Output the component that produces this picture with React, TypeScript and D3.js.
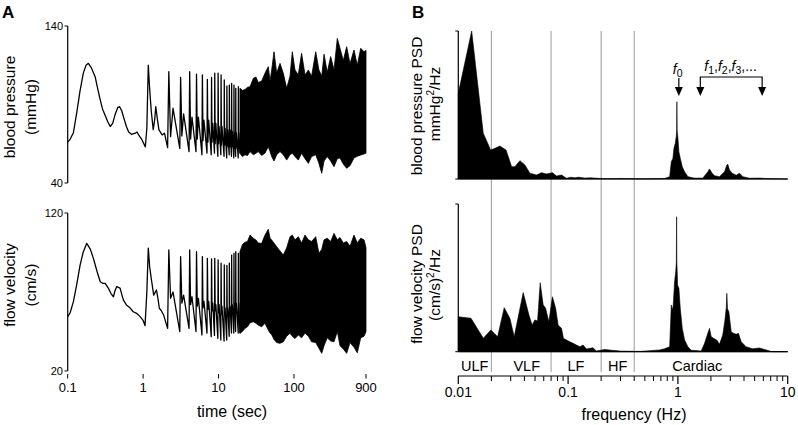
import React from 'react';
import * as d3 from 'd3';

// ---------- panel A : time series ----------
// heart beats (s) shared by both traces, read from the spikes
const beatT = [2.19, 3.14, 4.14, 5.1, 6.1, 7.1, 8.07, 8.9, 9.86, 10.8, 11.9, 12.9, 13.9, 14.9, 16.0, 16.9, 18.3];

// blood pressure (mmHg), first two seconds point by point
const bpEarlyT = [0.1, 0.108, 0.119, 0.132, 0.145, 0.161, 0.175, 0.188, 0.205, 0.231, 0.25, 0.27, 0.29, 0.314, 0.34, 0.366, 0.395, 0.427, 0.46, 0.488, 0.52, 0.55, 0.6, 0.643, 0.7, 0.788, 0.83, 0.872, 0.967, 1.07, 1.12, 1.17, 1.22, 1.28, 1.36, 1.42, 1.47, 1.55, 1.62, 1.79, 1.92];
const bpEarlyV = [66, 68, 72, 85, 98, 110, 115, 116.2, 113.5, 107.7, 100, 93, 87, 83, 79, 76, 78, 84, 88, 88.6, 86, 82, 76, 72.5, 71, 71.7, 72.5, 70.6, 67.4, 63, 75, 115, 100, 86, 74, 80, 88.6, 80, 73.8, 70.6, 71.7];
const bpPeak = [110.9, 107.3, 110.9, 109.4, 108.8, 106, 107.3, 109.9, 109.9, 108.8, 105.6, 101.8, 102.4, 103.5, 102.4, 100.3, 101.3];
const bpTrough = [62.5, 62, 60, 60, 58, 59, 58, 59, 57, 58, 57, 56, 58, 57, 56, 57, 56];
const bpDip = [69.5, 70, 68, 68, 67, 66, 66, 65, 65, 64, 64, 63, 63, 63, 62, 62, 62];
const bpNotch = [87.6, 84, 82, 82, 80, 80, 78, 78, 76, 76, 75, 74, 74, 73, 72, 72, 72];

// flow velocity (cm/s)
const fvEarlyT = [0.1, 0.108, 0.119, 0.132, 0.146, 0.16, 0.179, 0.2, 0.219, 0.245, 0.27, 0.29, 0.314, 0.347, 0.375, 0.404, 0.425, 0.447, 0.494, 0.546, 0.6, 0.67, 0.74, 0.82, 0.91, 1.0, 1.06, 1.12, 1.17, 1.22, 1.28, 1.38, 1.5, 1.57, 1.64, 1.75, 1.87];
const fvEarlyV = [54.4, 57, 63.9, 75, 87, 95, 100.8, 97, 91.3, 83, 76.5, 75.5, 75.5, 72.3, 69, 67, 71, 73.4, 72.5, 65, 61.8, 60, 57.5, 56.5, 54.4, 52, 48.7, 70, 97.7, 86, 78.7, 68, 71.3, 66, 59.7, 58, 55.4];
const fvPeak = [96.6, 92.4, 96.6, 95.5, 92.4, 91.3, 90.9, 91.3, 90.3, 88.2, 87.1, 86.8, 88.2, 93.4, 94.5, 95.5, 94.5];
const fvTrough = [47, 44.9, 47, 45, 42.8, 44, 41.7, 42.5, 40.7, 39.6, 39, 39.6, 42, 44, 44, 45, 44];
const fvDip = [66, 63, 62, 61, 60, 59, 58, 58, 57, 56, 56, 56, 57, 58, 58, 59, 59];
const fvNotch = [70, 68, 67, 66, 64, 64, 63, 62, 62, 61, 60, 60, 61, 62, 63, 63, 63];

// dense part (beats merge): upper / lower envelopes
const envT = [19.2, 20.7, 22.4, 24.2, 26.1, 28.9, 31.3, 33.6, 37.3, 41.2, 45.6, 48.1, 50.6, 54.3, 58.9, 65.2, 72.1, 80, 88.5, 94.9, 103, 114, 126, 140, 155, 171, 194, 214, 233, 250, 276, 306, 339, 375, 407, 450, 499, 552, 624, 690, 766, 847, 900];
const bpUpper = [100.3, 99, 99.5, 101, 101.3, 106.7, 107.5, 104, 105, 109.9, 114.1, 105, 112, 123.6, 110, 116.2, 109.9, 100.3, 108, 123.6, 112, 109, 122.6, 108.8, 112, 108, 123.6, 112, 108, 122, 110.5, 120.5, 112, 132.1, 125.8, 118, 126.8, 116, 124.7, 115, 125.8, 123.6, 124.5];
const bpLower = [58.9, 56.8, 58, 57.5, 60, 58, 58.9, 60, 57.5, 59, 63.1, 60, 56.8, 54, 58, 60, 58, 54.6, 58, 59, 56.8, 54.6, 59, 55.5, 52.5, 56.8, 58, 52.5, 46.2, 54, 56.8, 54, 50.4, 55.5, 56, 52, 49.4, 51, 56, 57, 57.8, 58.5, 59];
const fvUpper = [95.5, 100, 101.5, 102, 106, 104, 102.9, 101, 100.8, 106, 109.7, 104, 102.9, 101, 98.7, 96, 93.4, 98, 105, 106, 103, 105, 101, 106, 103, 102, 105, 94.5, 97, 103, 104, 102, 107.1, 103, 104.5, 101, 102, 99, 106, 101, 104, 103, 98];
const fvLower = [43.9, 45, 47, 48, 50.5, 51.2, 50.2, 49, 48, 50.2, 46, 44, 43, 40, 38, 37.5, 38.5, 42, 43.9, 42, 40.5, 42.8, 41, 44, 42, 38.5, 38, 34.4, 31.2, 36, 41, 39, 38.5, 45, 36, 34, 31.2, 38, 35, 31.5, 41, 42, 44.9];

const timeTicks = [0.1, 1, 10, 100, 900];
const timeTickLabels = ['0.1', '1', '10', '100', '900'];

// ---------- panel B : spectra (relative PSD) ----------
const bpPsdF = [0.01, 0.01324, 0.01688, 0.0197, 0.02156, 0.0239, 0.0272, 0.0306, 0.0328, 0.0364, 0.0404, 0.0449, 0.0516, 0.0573, 0.0636, 0.0721, 0.0785, 0.0871, 0.0967, 0.105, 0.115, 0.125, 0.142, 0.16, 0.194, 0.25, 0.3, 0.4, 0.55, 0.757, 0.841, 0.871, 0.901, 0.92, 0.947, 0.967, 0.975, 0.979, 0.984, 1.0, 1.021, 1.051, 1.096, 1.15, 1.233, 1.4, 1.688, 1.874, 1.94, 2.05, 2.16, 2.39, 2.66, 2.79, 2.85, 2.95, 3.12, 3.4, 3.64, 3.9, 4.49, 5.53, 6.14, 7.26, 10];
const bpPsdV = [0.579, 1.0, 0.309, 0.196, 0.207, 0.223, 0.196, 0.083, 0.083, 0.124, 0.095, 0.039, 0.027, 0.043, 0.034, 0.043, 0.02, 0.027, 0.005, 0.012, 0.008, 0.012, 0.006, 0.008, 0.004, 0.002, 0.004, 0.002, 0.002, 0.004, 0.016, 0.117, 0.14, 0.207, 0.241, 0.29, 0.34, 0.522, 0.33, 0.28, 0.184, 0.14, 0.083, 0.049, 0.016, 0.006, 0.006, 0.049, 0.068, 0.039, 0.022, 0.016, 0.049, 0.095, 0.099, 0.061, 0.039, 0.025, 0.039, 0.016, 0.005, 0.006, 0.004, 0.002, 0];
const fvPsdF = [0.01, 0.01305, 0.0169, 0.0198, 0.0228, 0.0262, 0.0295, 0.0323, 0.039, 0.044, 0.047, 0.0498, 0.0527, 0.0557, 0.0593, 0.0622, 0.0668, 0.072, 0.077, 0.0811, 0.0871, 0.0907, 0.0967, 0.1035, 0.111, 0.119, 0.128, 0.137, 0.147, 0.168, 0.181, 0.216, 0.248, 0.3, 0.45, 0.682, 0.757, 0.841, 0.871, 0.901, 0.933, 0.955, 0.968, 0.973, 0.978, 0.994, 1.021, 1.051, 1.096, 1.15, 1.233, 1.32, 1.63, 1.75, 1.85, 1.94, 2.01, 2.11, 2.26, 2.39, 2.56, 2.67, 2.76, 2.79, 2.83, 2.91, 3.06, 3.21, 3.4, 3.56, 3.77, 4.17, 4.79, 5.53, 6.5, 7.2, 10];
const fvPsdV = [0.237, 0.226, 0.091, 0.147, 0.102, 0.298, 0.226, 0.102, 0.4, 0.248, 0.181, 0.215, 0.208, 0.467, 0.316, 0.298, 0.203, 0.372, 0.294, 0.181, 0.158, 0.091, 0.079, 0.068, 0.057, 0.045, 0.034, 0.045, 0.018, 0.027, 0.005, 0.015, 0.01, 0.004, 0.002, 0.012, 0.02, 0.034, 0.316, 0.282, 0.474, 0.542, 0.6, 0.914, 0.62, 0.45, 0.429, 0.294, 0.158, 0.079, 0.034, 0.01, 0.005, 0.057, 0.113, 0.158, 0.102, 0.091, 0.079, 0.05, 0.113, 0.203, 0.3, 0.395, 0.29, 0.271, 0.135, 0.125, 0.118, 0.125, 0.068, 0.034, 0.02, 0.025, 0.01, 0, 0];

const bandEdges = [0.02, 0.07, 0.2, 0.4];
const bandNames = ['ULF', 'VLF', 'LF', 'HF', 'Cardiac'];
const bandLabelF = [0.0141, 0.042, 0.118, 0.283, 1.5];
const freqTicks = [0.01, 0.1, 1, 10];
const freqTickLabels = ['0.01', '0.1', '1', '10'];
const f0Freq = 1.02;
const harmonicSpan = [1.6, 5.85];

const FONT = '"Liberation Sans", Arial, Helvetica, sans-serif';

type Pt = [number, number];

function tracePoints(earlyT: number[], earlyV: number[], peak: number[], trough: number[], dip: number[], notch: number[], lower: number[]): Pt[] {
  const pts: Pt[] = earlyT.map((t, i) => [t, earlyV[i]]);
  beatT.forEach((t, i) => {
    pts.push([t - 0.08, trough[i]], [t, peak[i]], [t + 0.12, dip[i]], [t + 0.3, notch[i]]);
  });
  pts.push([envT[0], lower[0]]);
  return pts;
}

export default function App() {
  const xT = d3.scaleLog().domain([0.1, 900]).range([67.7, 366]);
  const yBP = d3.scaleLinear().domain([40, 140]).range([183, 26]);
  const yFV = d3.scaleLinear().domain([20, 120]).range([371, 213]);
  const xF = d3.scaleLog().domain([0.01, 10]).range([458.3, 787.7]);
  const yP1 = d3.scaleLinear().domain([0, 1]).range([179, 31]);
  const yP2 = d3.scaleLinear().domain([0, 1]).range([351.7, 204]);

  const traceLine = (y: d3.ScaleLinear<number, number>) =>
    d3.line<Pt>().x(d => xT(d[0])).y(d => y(d[1]));
  const envArea = (y: d3.ScaleLinear<number, number>, lower: number[]) =>
    d3.area<number>().x((_, i) => xT(envT[i])).y0((_, i) => y(lower[i])).y1(d => y(d));
  const psdArea = (y: d3.ScaleLinear<number, number>, f: number[]) =>
    d3.area<number>().x((_, i) => xF(f[i])).y0(y(0)).y1(d => y(d));

  const bpPts = tracePoints(bpEarlyT, bpEarlyV, bpPeak, bpTrough, bpDip, bpNotch, bpLower);
  const fvPts = tracePoints(fvEarlyT, fvEarlyV, fvPeak, fvTrough, fvDip, fvNotch, fvLower);

  const minorTicks = xF.ticks().filter(t => !freqTicks.some(m => Math.abs(m - t) < 1e-9));

  const arrowHead = (x: number, tipY: number) => `M${x - 4},${tipY - 9}L${x + 4},${tipY - 9}L${x},${tipY}Z`;
  const xf0 = xF(f0Freq);
  const xh1 = xF(harmonicSpan[0]);
  const xh2 = xF(harmonicSpan[1]);

  const yAxisA = (y: d3.ScaleLinear<number, number>, ticks: number[]) => {
    const [a, b] = y.domain();
    return (
      <g>
        <line x1={67.7} x2={67.7} y1={y(a)} y2={y(b)} stroke="#000" strokeWidth={1.2} />
        {ticks.map(t => (
          <g key={t}>
            <line x1={64.5} x2={67.7} y1={y(t)} y2={y(t)} stroke="#000" strokeWidth={1} />
            <text x={63} y={y(t)} dy="0.35em" textAnchor="end" fontSize={11}>{t}</text>
          </g>
        ))}
      </g>
    );
  };

  const yAxisB = (y: d3.ScaleLinear<number, number>) => (
    <g>
      <line x1={458.3} x2={458.3} y1={y(0)} y2={y(1)} stroke="#000" strokeWidth={1.2} />
      <line x1={455.3} x2={458.3} y1={y(0)} y2={y(0)} stroke="#000" />
      <line x1={455.3} x2={458.3} y1={y(1)} y2={y(1)} stroke="#000" />
      <line x1={458.3} x2={787.7} y1={y(0)} y2={y(0)} stroke="#000" strokeWidth={1.2} />
    </g>
  );

  return (
    <svg width={798} height={425} style={{ position: 'absolute', left: 0, top: 0, background: '#fff' }} fontFamily={FONT}>
      {/* ----- panel A ----- */}
      <text x={2} y={18} fontSize={17} fontWeight="bold">A</text>
      {yAxisA(yBP, [40, 140])}
      {yAxisA(yFV, [20, 120])}
      <path d={traceLine(yBP)(bpPts) || ''} fill="none" stroke="#000" strokeWidth={1.3} strokeLinejoin="round" />
      <path d={envArea(yBP, bpLower)(bpUpper) || ''} fill="#000" stroke="#000" strokeWidth={0.8} />
      <path d={traceLine(yFV)(fvPts) || ''} fill="none" stroke="#000" strokeWidth={1.3} strokeLinejoin="round" />
      <path d={envArea(yFV, fvLower)(fvUpper) || ''} fill="#000" stroke="#000" strokeWidth={0.8} />

      <text transform="translate(15,107) rotate(-90)" textAnchor="middle" fontSize={15.5}>blood pressure</text>
      <text transform="translate(36,107) rotate(-90)" textAnchor="middle" fontSize={15.5}>(mmHg)</text>
      <text transform="translate(15,285) rotate(-90)" textAnchor="middle" fontSize={15.5}>flow velocity</text>
      <text transform="translate(36,285) rotate(-90)" textAnchor="middle" fontSize={15.5}>(cm/s)</text>

      {timeTicks.map((t, i) => (
        <g key={t}>
          <line x1={xT(t)} x2={xT(t)} y1={374} y2={378.5} stroke="#000" strokeWidth={1} />
          <text x={xT(t)} y={392} textAnchor="middle" fontSize={13}>{timeTickLabels[i]}</text>
        </g>
      ))}
      <text x={232} y={417} textAnchor="middle" fontSize={16}>time (sec)</text>

      {/* ----- panel B ----- */}
      <text x={412} y={18} fontSize={17} fontWeight="bold">B</text>
      {bandEdges.map(f => (
        <line key={f} x1={xF(f)} x2={xF(f)} y1={31} y2={372} stroke="#999" strokeWidth={1} />
      ))}
      <path d={psdArea(yP1, bpPsdF)(bpPsdV) || ''} fill="#000" stroke="#000" strokeWidth={0.6} />
      <path d={psdArea(yP2, fvPsdF)(fvPsdV) || ''} fill="#000" stroke="#000" strokeWidth={0.6} />
      {yAxisB(yP1)}
      {yAxisB(yP2)}

      <text transform="translate(422,106) rotate(-90)" textAnchor="middle" fontSize={15.5}>blood pressure PSD</text>
      <text transform="translate(440,104) rotate(-90)" textAnchor="middle" fontSize={15.5}>
        mmHg<tspan dy={-6} fontSize={10}>2</tspan><tspan dy={6}>/Hz</tspan>
      </text>
      <text transform="translate(422,284) rotate(-90)" textAnchor="middle" fontSize={15.5}>flow velocity PSD</text>
      <text transform="translate(440,285) rotate(-90)" textAnchor="middle" fontSize={15.5}>
        (cm/s)<tspan dy={-6} fontSize={10}>2</tspan><tspan dy={6}>/Hz</tspan>
      </text>

      {/* f0 and harmonics */}
      <text x={xf0 - 6} y={74} fontSize={14}>
        <tspan fontStyle="italic">f</tspan><tspan dy={3} fontSize={10.5}>0</tspan>
      </text>
      <line x1={xf0} x2={xf0} y1={78} y2={88} stroke="#000" strokeWidth={1.2} />
      <path d={arrowHead(xf0, 96)} fill="#000" />
      <path d={`M${xh1},88V77H${xh2}V88`} fill="none" stroke="#000" strokeWidth={1.2} />
      <path d={arrowHead(xh1, 96)} fill="#000" />
      <path d={arrowHead(xh2, 96)} fill="#000" />
      <text x={xh1 + 4} y={71} fontSize={14}>
        <tspan fontStyle="italic">f</tspan><tspan dy={3} fontSize={10.5}>1</tspan>
        <tspan dy={-3}>,</tspan><tspan fontStyle="italic">f</tspan><tspan dy={3} fontSize={10.5}>2</tspan>
        <tspan dy={-3}>,</tspan><tspan fontStyle="italic">f</tspan><tspan dy={3} fontSize={10.5}>3</tspan>
        <tspan dy={-3}>,...</tspan>
      </text>

      {bandNames.map((n, i) => (
        <text key={n} x={xF(bandLabelF[i])} y={371} textAnchor="middle" fontSize={14.5}>{n}</text>
      ))}

      <line x1={458.3} x2={787.7} y1={376} y2={376} stroke="#000" strokeWidth={1.2} />
      {minorTicks.map(t => (
        <line key={t} x1={xF(t)} x2={xF(t)} y1={376} y2={381} stroke="#000" strokeWidth={1} />
      ))}
      {freqTicks.map((t, i) => (
        <g key={t}>
          <line x1={xF(t)} x2={xF(t)} y1={376} y2={384} stroke="#000" strokeWidth={1.2} />
          <text x={xF(t)} y={397} textAnchor="middle" fontSize={14}>{freqTickLabels[i]}</text>
        </g>
      ))}
      <text x={634} y={420} textAnchor="middle" fontSize={16}>frequency (Hz)</text>
    </svg>
  );
}
